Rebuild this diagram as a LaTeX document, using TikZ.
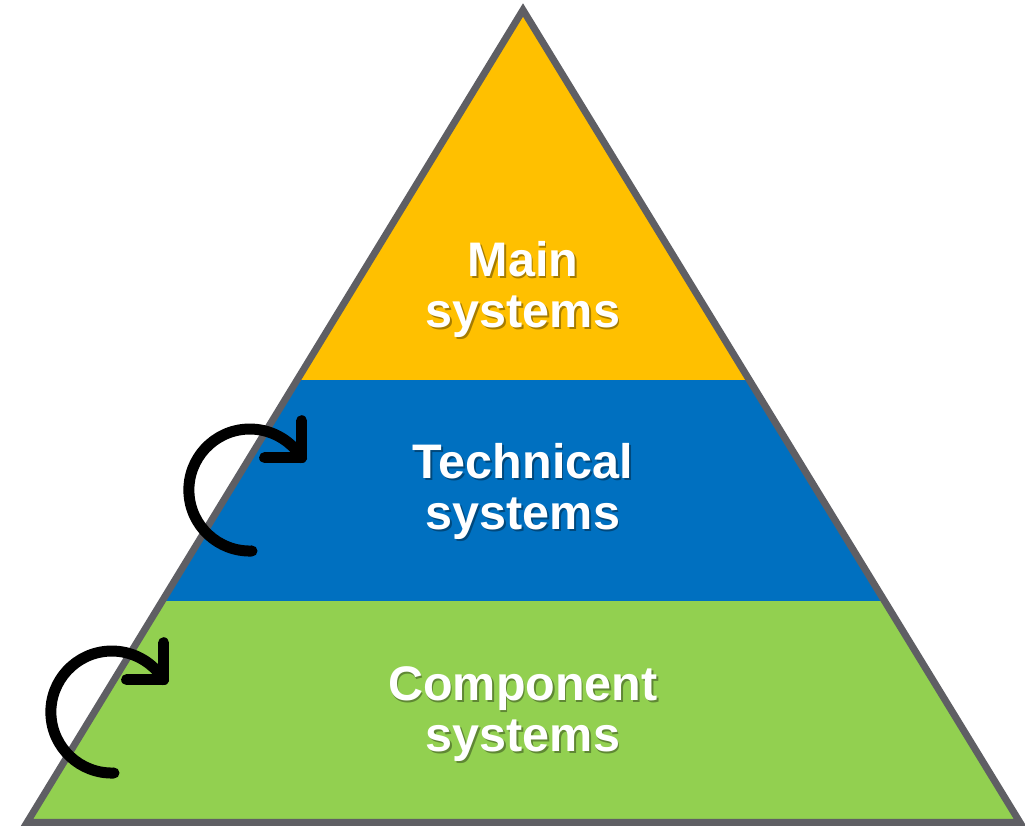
\documentclass[tikz,border=0pt]{standalone}
\usepackage{fontspec}
\setmainfont{Liberation Sans}
\usetikzlibrary{calc}
\definecolor{tierYellow}{HTML}{FFC000}
\definecolor{tierBlue}{HTML}{0070C0}
\definecolor{tierGreen}{HTML}{92D050}
\definecolor{rim}{RGB}{95,95,100}
\tikzset{tier/.style = {text=white,font=\bfseries\fontsize{48.5}{51}\selectfont,align=center,anchor=base,inner sep=0pt},
         tiershadow/.style = {tier,text=black,opacity=0.35},
         turn/.style = {line width=11pt,line cap=round,line join=round}}

\begin{document}
\begin{tikzpicture}[x=1pt,y=1pt]
            \useasboundingbox (0,0) rectangle (1025,826);
            \coordinate (top) at (523,816);
            \coordinate (bl) at (27,3.5);
            \coordinate (br) at (1020,3.5);

            % the three tiers
            \begin{scope}
                \clip (top) -- (bl) -- (br) -- cycle;
                \fill [tierGreen]  (0,0)   rectangle (1025,225);
                \fill [tierBlue]   (0,225) rectangle (1025,446);
                \fill [tierYellow] (0,446) rectangle (1025,826);
            \end{scope}
            \draw [rim, line width=7pt] (top) -- (bl) -- (br) -- cycle;

            \foreach \name/\y/\txt in {main/498/Main, tech/296/Technical, comp/74/Component}{
                \node [tiershadow] at (524.5,\y-2) {\txt\\systems};
                \node [tier] (\name) at (523,\y) {\txt\\systems};
            }

            % feedback arrows
            \foreach \cx/\cy/\n in {250/336/1, 112/114/2}{
                \draw [turn] (\cx+2,\cy-61) arc [start angle=272, end angle=32, radius=61] coordinate (t\n);
                \draw [turn] ($(t\n)+(-37,0)$) -- (t\n) -- ++(0,37);
            }
        \end{tikzpicture}
\end{document}
